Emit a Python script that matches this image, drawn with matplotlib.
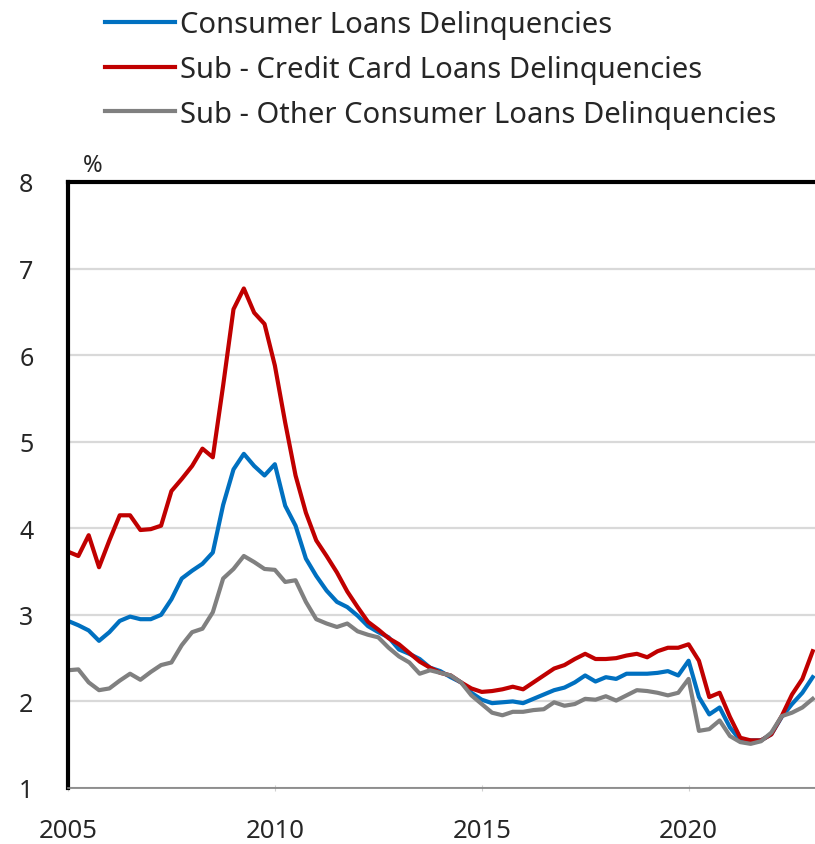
import numpy as np
import matplotlib
matplotlib.use('Agg')
import matplotlib.pyplot as plt

plt.rcParams['font.family'] = ['Noto Sans', 'DejaVu Sans']

# quarterly, 2005Q1 .. 2023Q1
consumer = [2.93, 2.88, 2.82, 2.70, 2.80, 2.93, 2.98, 2.95, 2.95, 3.00,
            3.18, 3.42, 3.51, 3.59, 3.72, 4.27, 4.68, 4.86, 4.72, 4.61,
            4.74, 4.26, 4.03, 3.65, 3.45, 3.28, 3.15, 3.09, 2.99, 2.87,
            2.80, 2.74, 2.60, 2.55, 2.49, 2.39, 2.35, 2.28, 2.22, 2.10,
            2.02, 1.98, 1.99, 2.00, 1.98, 2.03, 2.08, 2.13, 2.16, 2.22,
            2.30, 2.23, 2.28, 2.26, 2.32, 2.32, 2.32, 2.33, 2.35, 2.30,
            2.47, 2.05, 1.85, 1.93, 1.70, 1.55, 1.55, 1.55, 1.62, 1.82,
            1.97, 2.10, 2.28]
credit_card = [3.73, 3.68, 3.92, 3.55, 3.86, 4.15, 4.15, 3.98, 3.99, 4.03,
               4.43, 4.57, 4.72, 4.92, 4.82, 5.65, 6.53, 6.77, 6.49, 6.36,
               5.88, 5.22, 4.61, 4.18, 3.86, 3.68, 3.49, 3.27, 3.09, 2.92,
               2.83, 2.73, 2.66, 2.56, 2.46, 2.39, 2.33, 2.30, 2.22, 2.15,
               2.11, 2.12, 2.14, 2.17, 2.14, 2.22, 2.30, 2.38, 2.42, 2.49,
               2.55, 2.49, 2.49, 2.50, 2.53, 2.55, 2.51, 2.58, 2.62, 2.62,
               2.66, 2.47, 2.05, 2.10, 1.82, 1.58, 1.55, 1.55, 1.62, 1.83,
               2.08, 2.26, 2.58]
other = [2.36, 2.37, 2.22, 2.13, 2.15, 2.24, 2.32, 2.25, 2.34, 2.42,
         2.45, 2.65, 2.80, 2.84, 3.03, 3.42, 3.53, 3.68, 3.61, 3.53,
         3.52, 3.38, 3.40, 3.15, 2.95, 2.90, 2.86, 2.90, 2.81, 2.77,
         2.74, 2.62, 2.52, 2.45, 2.32, 2.36, 2.33, 2.30, 2.22, 2.07,
         1.97, 1.87, 1.84, 1.88, 1.88, 1.90, 1.91, 1.99, 1.95, 1.97,
         2.03, 2.02, 2.06, 2.01, 2.07, 2.13, 2.12, 2.10, 2.07, 2.10,
         2.26, 1.66, 1.68, 1.78, 1.60, 1.53, 1.51, 1.54, 1.64, 1.83,
         1.87, 1.93, 2.03]
labels = ['Consumer Loans Delinquencies',
          'Sub - Credit Card Loans Delinquencies',
          'Sub - Other Consumer Loans Delinquencies']
year_ticks = [2005, 2010, 2015, 2020]

t = 2005 + np.arange(len(consumer)) / 4.0

W, H = 815, 845
fig = plt.figure(figsize=(W / 100, H / 100), dpi=100)
ax = fig.add_axes([68 / W, 1 - 789 / H, 1 - 68 / W, (789 - 183) / H])

l1, = ax.plot(t, consumer, color='#0070C0', lw=3, label=labels[0])
l2, = ax.plot(t, credit_card, color='#C00000', lw=3, label=labels[1])
l3, = ax.plot(t, other, color='#808080', lw=3, label=labels[2])

ax.set_xlim(2005, 2005 + (815 - 67.5) / 41.4)
ax.set_ylim(1, 8)
ax.set_yticks(range(1, 9))
ax.set_xticks(year_ticks)
ax.grid(axis='y', color='#D9D9D9', lw=1.6)
ax.set_axisbelow(True)

for s in ['top', 'left']:
    ax.spines[s].set_color('black')
    ax.spines[s].set_linewidth(3)
ax.spines['right'].set_visible(False)
ax.spines['bottom'].set_color('#808080')
ax.spines['bottom'].set_linewidth(1.2)

ax.tick_params(axis='y', length=0, pad=30, labelsize=18, labelcolor='#262626')
ax.tick_params(axis='x', length=5, direction='inout', color='#D0D0D0',
               pad=19, labelsize=18.5, labelcolor='#262626')
for lab in ax.get_yticklabels():
    lab.set_horizontalalignment('center')

fig.text(93 / W, 1 - 166 / H, '%', fontsize=17, color='#262626',
         ha='center', va='center')

fig.legend(handles=[l1, l2, l3], loc='upper left',
           bbox_to_anchor=(105 / W, 1 - 11 / H), frameon=False,
           borderpad=0, borderaxespad=0,
           fontsize=21, handlelength=2.4, handletextpad=0.17,
           labelspacing=0.54, labelcolor='#262626')

fig.savefig('out.png', dpi=100)
